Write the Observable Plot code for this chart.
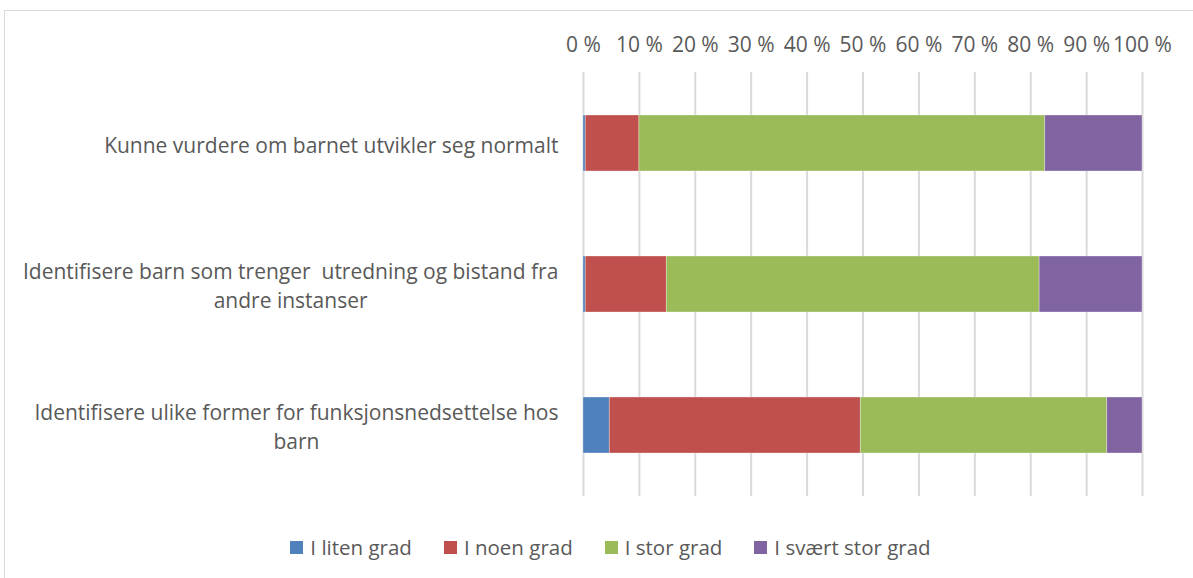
<!DOCTYPE html>
<html>
<head>
<meta charset="utf-8">
<script src="https://cdn.jsdelivr.net/npm/d3@7"></script>
<script src="https://cdn.jsdelivr.net/npm/@observablehq/plot@0.6"></script>
<style>
  html, body { margin: 0; padding: 0; background: #fff; width: 1193px; height: 578px; overflow: hidden; }
  body { position: relative; font-family: "Open Sans", sans-serif; }
  #frame { position: absolute; left: 4px; top: 10px; width: 1400px; height: 800px; border: 1px solid #d9d9d9; box-sizing: border-box; }
  #chart { position: absolute; left: 0; top: 0; }
  #legend { position: absolute; top: 533px; left: 0; width: 1193px; display: flex; justify-content: center; padding-left: 28px; box-sizing: border-box; font-size: 20.5px; color: #595959; font-family: "Open Sans", sans-serif; }
  .item { display: flex; align-items: center; margin: 0 16px; }
  .sw { width: 13px; height: 13px; margin-right: 7px; }
</style>
</head>
<body>
<div id="frame"></div>
<div id="chart"></div>
<div id="legend"></div>
<script>
const categories = [
  "Kunne vurdere om barnet utvikler seg normalt",
  "Identifisere barn som trenger  utredning og bistand fra\nandre instanser",
  "Identifisere ulike former for funksjonsnedsettelse hos\nbarn"
];
const series = ["I liten grad", "I noen grad", "I stor grad", "I svært stor grad"];
const colors = ["#4f81bd", "#c0504d", "#9bbb59", "#8064a2"];
const litenGrad = [0.4, 0.4, 4.7];
const noenGrad = [9.6, 14.5, 44.9];
const storGrad = [72.6, 66.7, 44.1];
const svaertStorGrad = [17.4, 18.4, 6.3];
const xTicks = [0, 10, 20, 30, 40, 50, 60, 70, 80, 90, 100];

const valuesBySeries = [litenGrad, noenGrad, storGrad, svaertStorGrad];
const data = [];
series.forEach((s, si) => {
  categories.forEach((c, ci) => {
    data.push({category: c, series: s, value: valuesBySeries[si][ci]});
  });
});

const chart = Plot.plot({
  width: 1193,
  height: 520,
  marginTop: 72,
  marginBottom: 24,
  marginLeft: 583,
  marginRight: 51,
  style: {background: "transparent", fontFamily: "Open Sans, sans-serif"},
  x: {domain: [0, 100], axis: null, label: null},
  y: {domain: categories, paddingInner: 0.6, paddingOuter: 0.3, axis: null, label: null},
  color: {domain: series, range: colors},
  marks: [
    Plot.ruleX(xTicks, {stroke: "#d9d9d9", strokeWidth: 2}),
    Plot.barX(data, {x: "value", y: "category", fill: "series", order: series, stroke: "#ffffff", strokeOpacity: 0.4, strokeWidth: 0.75}),
    Plot.axisX({anchor: "top", ticks: xTicks, tickFormat: d => d + " %", tickSize: 0, tickPadding: 21, fontSize: 21, fill: "#595959", label: null}),
    Plot.axisY({anchor: "left", tickSize: 0, tickPadding: 25, fontSize: 21, fill: "#595959", lineHeight: 1.34, label: null})
  ]
});
document.getElementById("chart").appendChild(chart);

// center lines within each multi-line label block (right edge kept)
chart.querySelectorAll('g[aria-label="y-axis tick label"] text').forEach(t => {
  const bb = t.getBBox();
  t.setAttribute("text-anchor", "middle");
  const tspans = t.querySelectorAll("tspan");
  if (tspans.length) {
    tspans.forEach(ts => ts.setAttribute("x", -bb.width / 2));
  } else {
    t.setAttribute("x", (+(t.getAttribute("x") || 0)) - bb.width / 2);
  }
});

const legend = document.getElementById("legend");
series.forEach((s, i) => {
  const item = document.createElement("div");
  item.className = "item";
  const sw = document.createElement("div");
  sw.className = "sw";
  sw.style.background = colors[i];
  const label = document.createElement("span");
  label.textContent = s;
  item.appendChild(sw);
  item.appendChild(label);
  legend.appendChild(item);
});
</script>
</body>
</html>
